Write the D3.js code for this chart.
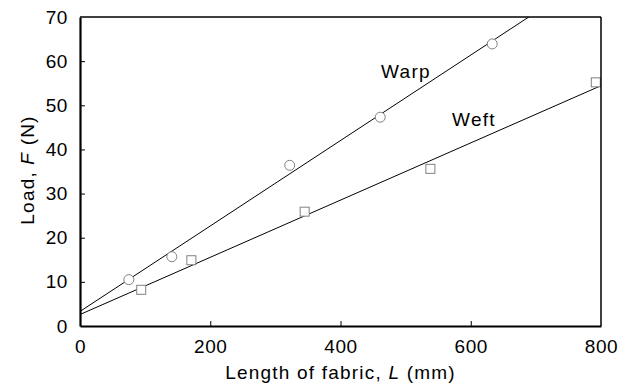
<!DOCTYPE html>
<html>
<head>
<meta charset="utf-8">
<style>
    body { margin: 0; background: #fff; font-family: "Liberation Sans", Arial, Helvetica, sans-serif; }
    svg { display: block; }
</style>
<script src="https://cdn.jsdelivr.net/npm/d3@7/dist/d3.min.js"></script>
</head>
<body>
<svg id="chart"></svg>
<script>
    let warpL = [75, 141, 322, 461, 633]
    let warpF = [10.5, 15.7, 36.4, 47.3, 63.9]
    let weftL = [94, 171, 345, 538, 792]
    let weftF = [8.2, 14.9, 25.9, 35.6, 55.2]
    let fitNames = ["Warp", "Weft"]
    let fitIntercept = [3.3, 2.6]
    let fitSlope = [0.0968, 0.0648]
    let xTicks = [0, 200, 400, 600, 800]
    let yTicks = [0, 10, 20, 30, 40, 50, 60, 70]

    let width = 630, height = 385
    let margin = { top: 17, right: 29, bottom: 59, left: 80 }
    let bodyWidth = width - margin.left - margin.right
    let bodyHeight = height - margin.top - margin.bottom
    let fontSize = "19px"

    let svg = d3.select("#chart").attr("width", width).attr("height", height)

    let xScale = d3.scaleLinear().domain([0, 800]).range([0, bodyWidth])
    let yScale = d3.scaleLinear().domain([0, 70]).range([bodyHeight, 0])

    let body = svg.append("g")
        .attr("transform", `translate(${margin.left},${margin.top})`)

    let clip = svg.append("clipPath").attr("id", "plotClip")
    clip.append("rect").attr("width", bodyWidth).attr("height", bodyHeight)

    // fitted lines
    let fitLayer = body.append("g").attr("clip-path", "url(#plotClip)")
    fitNames.forEach((name, i) => {
        let pts = [0, 800].map(l => [l, fitIntercept[i] + fitSlope[i] * l])
        fitLayer.append("path")
            .attr("d", d3.line().x(d => xScale(d[0])).y(d => yScale(d[1]))(pts))
            .attr("fill", "none")
            .attr("stroke", "#000")
            .attr("stroke-width", 1)
    })

    // markers
    let warp = warpL.map((l, i) => ({ l: l, f: warpF[i] }))
    let weft = weftL.map((l, i) => ({ l: l, f: weftF[i] }))

    body.selectAll(".warp").data(warp).enter().append("circle")
        .attr("class", "warp")
        .attr("cx", d => xScale(d.l))
        .attr("cy", d => yScale(d.f))
        .attr("r", 5)
        .attr("fill", "#fff")
        .attr("stroke", "#808080")
        .attr("stroke-width", 1)

    let sq = 9
    body.selectAll(".weft").data(weft).enter().append("rect")
        .attr("class", "weft")
        .attr("x", d => xScale(d.l) - sq / 2)
        .attr("y", d => yScale(d.f) - sq / 2)
        .attr("width", sq)
        .attr("height", sq)
        .attr("fill", "#fff")
        .attr("stroke", "#808080")
        .attr("stroke-width", 1)

    // labels for the lines
    body.append("text").text("Warp")
        .attr("x", 301).attr("y", 61)
        .style("font-size", fontSize).style("letter-spacing", "1.3px")
    body.append("text").text("Weft")
        .attr("x", 372).attr("y", 109)
        .style("font-size", fontSize).style("letter-spacing", "1.3px")

    // frame: top and right thinner
    body.append("line").attr("x1", 0).attr("x2", bodyWidth).attr("y1", 0).attr("y2", 0)
        .attr("stroke", "#000").attr("stroke-width", 1.5)
    body.append("line").attr("x1", bodyWidth).attr("x2", bodyWidth).attr("y1", 0).attr("y2", bodyHeight)
        .attr("stroke", "#000").attr("stroke-width", 1.5)

    // axes, ticks pointing inward
    let axisX = d3.axisBottom(xScale).tickValues(xTicks).tickSize(-5).tickPadding(14).tickSizeOuter(0)
    let gx = body.append("g")
        .attr("transform", `translate(0,${bodyHeight})`)
        .call(axisX)
    gx.select(".domain").attr("stroke-width", 2.2)
    gx.selectAll("text").style("font-size", fontSize).attr("fill", "#000")
        .style("letter-spacing", "0.6px")
        .style("font-family", "'Liberation Sans', Arial, sans-serif")

    let axisY = d3.axisLeft(yScale).tickValues(yTicks).tickSize(-5).tickPadding(12).tickSizeOuter(0)
    let gy = body.append("g").call(axisY)
    gy.select(".domain").attr("stroke-width", 2.2)
    gy.selectAll("text").style("font-size", fontSize).attr("fill", "#000")
        .style("letter-spacing", "0.6px")
        .style("font-family", "'Liberation Sans', Arial, sans-serif")
    gy.selectAll(".tick").filter(d => d == 0 || d == 70).select("line").remove()
    gx.selectAll(".tick").filter(d => d == 0 || d == 800).select("line").remove()

    // axis titles
    let xTitle = svg.append("text")
        .attr("x", margin.left + bodyWidth / 2).attr("y", 379)
        .attr("text-anchor", "middle")
        .style("font-size", fontSize)
        .style("letter-spacing", "1.2px")
    xTitle.append("tspan").text("Length of fabric, ")
    xTitle.append("tspan").text("L").style("font-style", "italic")
    xTitle.append("tspan").text(" (mm)")

    let yTitle = svg.append("text")
        .attr("transform", `translate(34,${170}) rotate(-90)`)
        .attr("text-anchor", "middle")
        .style("font-size", fontSize)
        .style("letter-spacing", "1.2px")
    yTitle.append("tspan").text("Load, ")
    yTitle.append("tspan").text("F").style("font-style", "italic")
    yTitle.append("tspan").text(" (N)")
</script>
</body>
</html>
